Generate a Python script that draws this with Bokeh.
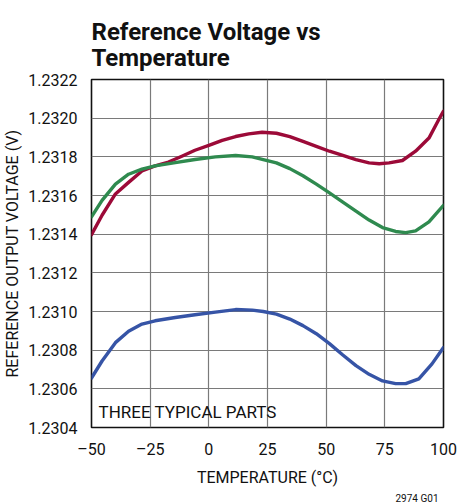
from bokeh.plotting import figure
from bokeh.models import (FixedTicker, NumeralTickFormatter, Title, Label, Range1d)
from bokeh.embed import file_html
from bokeh.resources import INLINE

# temperatures (°C) and output voltages (V)
red_t = [-50, -45.5, -39.8, -34.2, -28.5, -22.9, -17.2, -11.5, -5.9, 0, 5.7, 11.4, 17, 22.7,
         28.8, 34.5, 40.1, 45.8, 51.4, 57.1, 62.7, 68.3, 72.6, 76.8, 82.5, 88.1, 93.8, 98, 100]
red_v = [1.231397, 1.231498, 1.231608, 1.231668, 1.231727, 1.231753, 1.231773, 1.231803,
         1.231834, 1.231859, 1.231885, 1.231905, 1.231919, 1.231927, 1.231922, 1.231905,
         1.231880, 1.231854, 1.231829, 1.231807, 1.231786, 1.231769, 1.231764, 1.231769,
         1.231781, 1.231829, 1.231897, 1.231993, 1.232036]

green_t = [-50, -45.5, -39.8, -34.2, -28.5, -22.9, -14.3, -5.9, 2.8, 11.4, 18.5, 23.2, 28.8,
           34.5, 40.1, 45.8, 51.4, 57.1, 62.7, 68.3, 74, 79.6, 83.9, 88.1, 93.8, 100]
green_v = [1.231490, 1.231575, 1.231659, 1.231710, 1.231736, 1.231753, 1.231770, 1.231786,
           1.231800, 1.231807, 1.231800, 1.231786, 1.231769, 1.231739, 1.231702, 1.231659,
           1.231614, 1.231566, 1.231519, 1.231473, 1.231434, 1.231414, 1.231408, 1.231417,
           1.231464, 1.231549]

blue_t = [-50, -45.5, -39.8, -34.2, -28.5, -22.9, -14.3, -5.9, 2.8, 11.4, 18.5, 23.2, 28.8,
          34.5, 40.1, 45.8, 51.4, 57.1, 62.7, 68.3, 74, 79.6, 83.9, 89.5, 95.1, 100]
blue_v = [1.230656, 1.230744, 1.230839, 1.230898, 1.230935, 1.230952, 1.230969, 1.230983,
          1.230997, 1.231010, 1.231007, 1.231000, 1.230986, 1.230961, 1.230927, 1.230885,
          1.230834, 1.230775, 1.230720, 1.230675, 1.230641, 1.230627, 1.230627, 1.230652,
          1.230729, 1.230814]

x_ticks = [-50, -25, 0, 25, 50, 75, 100]
x_tick_labels = {-50: "\u201350", -25: "\u201325", 0: "0", 25: "25", 50: "50", 75: "75", 100: "100"}
y_ticks = [1.2304, 1.2306, 1.2308, 1.2310, 1.2312, 1.2314, 1.2316, 1.2318, 1.2320, 1.2322]

FONT = "Roboto"

p = figure(width=458, height=504, output_backend="svg", toolbar_location=None,
           x_range=Range1d(-50, 100), y_range=Range1d(1.2304, 1.2322),
           min_border_left=91, min_border_right=15, min_border_top=79, min_border_bottom=74)

for t, v, c in ((red_t, red_v, "#9c0a38"), (green_t, green_v, "#2f8a4f"), (blue_t, blue_v, "#3654a6")):
    p.line(t, v, line_color=c, line_width=3.4, line_join="round", line_cap="round")

p.xaxis.ticker = FixedTicker(ticks=x_ticks)
p.xaxis.major_label_overrides = x_tick_labels
p.yaxis.ticker = FixedTicker(ticks=y_ticks)
p.yaxis.formatter = NumeralTickFormatter(format="0.0000")

for ax in (p.xaxis[0], p.yaxis[0]):
    ax.axis_line_color = None
    ax.major_tick_line_color = None
    ax.minor_tick_line_color = None
    ax.major_tick_out = 0
    ax.major_tick_in = 0
    ax.major_label_text_font = FONT
    ax.major_label_text_font_size = "16px"
    ax.major_label_text_color = "#111111"
    ax.axis_label_text_font = FONT
    ax.axis_label_text_font_size = "16px"
    ax.axis_label_text_font_style = "normal"
    ax.axis_label_text_color = "#111111"

p.xaxis.axis_label = "TEMPERATURE (\u00b0C)"
p.yaxis.axis_label = "REFERENCE OUTPUT VOLTAGE (V)"
p.xaxis.major_label_standoff = 12
p.yaxis.major_label_standoff = 14
p.xaxis.axis_label_standoff = 6
p.yaxis.axis_label_standoff = 3

p.grid.grid_line_color = "#7a7a7a"
p.grid.grid_line_width = 1.2
p.outline_line_color = "#111111"
p.outline_line_width = 1.6

p.add_layout(Label(x=-47.0, y=1.230427, text="THREE TYPICAL PARTS", text_font=FONT,
                   text_font_size="17px", text_color="#111111", text_baseline="bottom"))

p.add_layout(Title(text="2974 G01", align="right", offset=5, standoff=2, text_font=FONT,
                   text_font_size="10px", text_font_style="normal", text_color="#111111"), "below")

p.add_layout(Title(text="Reference Voltage vs\nTemperature", text_font=FONT, text_font_size="24px",
                   text_line_height=0.96, standoff=14,
                   text_font_style="bold", text_color="#111111"), "above")

open("out.html", "w").write(file_html(p, INLINE))
